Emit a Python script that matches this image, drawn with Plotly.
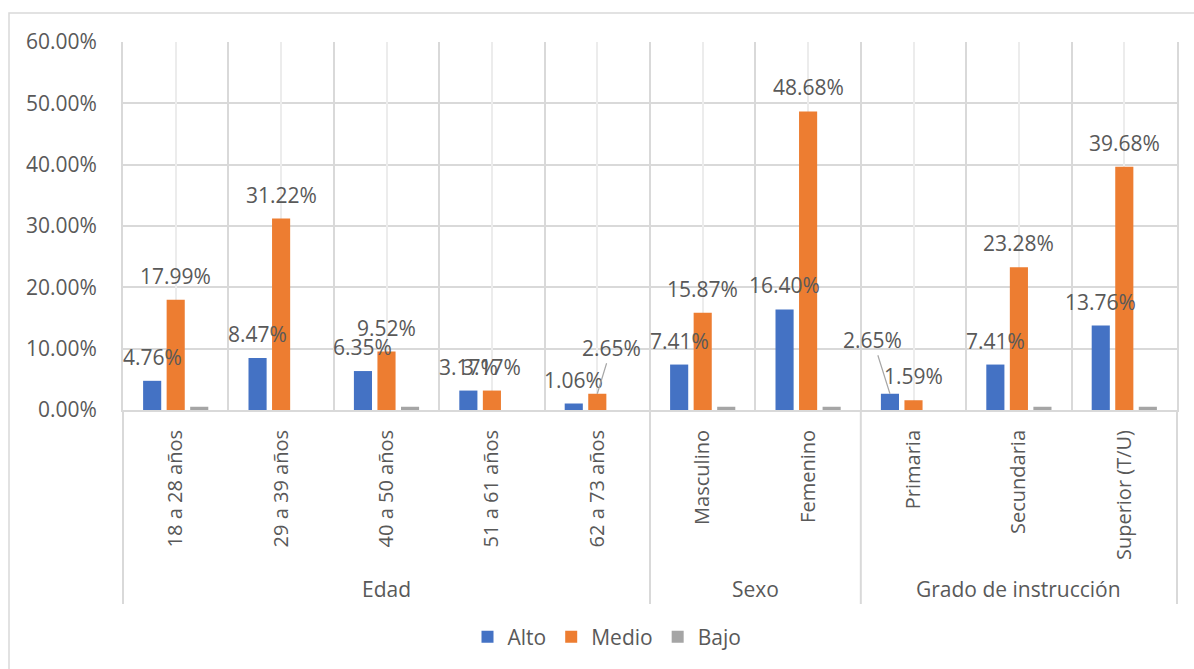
import plotly.graph_objects as go

categories = ["18 a 28 años", "29 a 39 años", "40 a 50 años", "51 a 61 años", "62 a 73 años",
              "Masculino", "Femenino", "Primaria", "Secundaria", "Superior (T/U)"]
group_names = ["Edad", "Sexo", "Grado de instrucción"]
group_sizes = [5, 2, 3]

alto = [4.76, 8.47, 6.35, 3.17, 1.06, 7.41, 16.40, 2.65, 7.41, 13.76]
medio = [17.99, 31.22, 9.52, 3.17, 2.65, 15.87, 48.68, 1.59, 23.28, 39.68]
bajo = [0.53, None, 0.53, None, None, 0.53, 0.53, None, 0.53, 0.53]

series = [("Alto", alto, "#4472C4", True), ("Medio", medio, "#ED7D31", True), ("Bajo", bajo, "#A5A5A5", False)]
# labels moved away from their bar, with a leader line (pixel offsets)
leader = {("Medio", 4): (14, -46), ("Alto", 7): (-17, -54)}

W, H = 1194, 669
ML, MR, MT, MB = 123, 17, 42, 259
BARGAP, GROUPGAP = 0.33, 0.23
FONT = "Open Sans"
TXT = "#595959"
GRID = "#d9d9d9"

plot_w = W - ML - MR
plot_h = H - MT - MB
cat_px = plot_w / len(categories)
slot_px = cat_px * (1 - BARGAP) / 3

fig = go.Figure()
for name, vals, col, _ in series:
    fig.add_trace(go.Bar(name=name, x=categories, y=vals, marker=dict(color=col, line=dict(width=0))))
# empty helper trace so the overlay axis (centre gridlines) is always built
fig.add_trace(go.Scatter(x=[], y=[], xaxis="x2", yaxis="y", showlegend=False, hoverinfo="skip"))

annotations = []
for si, (name, vals, col, labelled) in enumerate(series):
    if not labelled:
        continue
    for i, v in enumerate(vals):
        if v is None:
            continue
        xs = (si - 1) * slot_px
        txt = f"{v:.2f}%"
        if (name, i) in leader:
            ax, ay = leader[(name, i)]
            annotations.append(dict(x=categories[i], y=v, xref="x", yref="y", text=txt, xshift=xs,
                                    showarrow=True, arrowhead=0, arrowwidth=1.2, arrowcolor="#a6a6a6",
                                    ax=ax, ay=ay, standoff=0, startstandoff=0,
                                    font=dict(family=FONT, size=21, color=TXT)))
        else:
            annotations.append(dict(x=categories[i], y=v, xref="x", yref="y", text=txt, xshift=xs,
                                    yshift=8, yanchor="bottom", showarrow=False,
                                    font=dict(family=FONT, size=21, color=TXT)))

# group labels and dividers under the category axis
shapes = []
start = 0
bounds = [0]
for gname, gs in zip(group_names, group_sizes):
    center_idx = start + (gs - 1) / 2
    annotations.append(dict(x=(center_idx + 0.5) / len(categories), y=(0 - (589 - (MT + plot_h))) / plot_h,
                            xref="paper", yref="paper", text=gname, showarrow=False,
                            xanchor="center", yanchor="middle",
                            font=dict(family=FONT, size=21, color=TXT)))
    start += gs
    bounds.append(start)
for b in bounds:
    xp = b / len(categories)
    shapes.append(dict(type="line", xref="paper", yref="paper", x0=xp, x1=xp, y0=0,
                       y1=-(604 - (MT + plot_h)) / plot_h, line=dict(color=GRID, width=2)))

# outer chart border
shapes.append(dict(type="rect", xref="paper", yref="paper",
                   x0=(9 - ML) / plot_w, x1=(W + 10 - ML) / plot_w,
                   y0=-(H + 10 - (MT + plot_h)) / plot_h, y1=((MT + plot_h) - 13) / plot_h,
                   line=dict(color=GRID, width=1.5), fillcolor="rgba(0,0,0,0)"))

fig.update_layout(
    width=W, height=H,
    margin=dict(l=ML, r=MR, t=MT, b=MB, pad=0),
    paper_bgcolor="white", plot_bgcolor="white",
    barmode="group", bargap=BARGAP, bargroupgap=GROUPGAP,
    font=dict(family=FONT, size=21, color=TXT),
    showlegend=True,
    legend=dict(orientation="h", x=(607 - ML) / plot_w, xanchor="center",
                y=-(637 - (MT + plot_h)) / plot_h, yanchor="middle",
                font=dict(family=FONT, size=21, color=TXT), itemwidth=30,
                bgcolor="rgba(0,0,0,0)"),
    xaxis=dict(type="category", categoryorder="array", categoryarray=categories,
               tickson="boundaries", showgrid=True, gridcolor=GRID, gridwidth=2,
               showline=True, linecolor=GRID, linewidth=2, ticks="",
               tickangle=-90, tickfont=dict(family=FONT, size=20, color=TXT),
               ticklabelstandoff=10, range=[-0.5, 9.5], fixedrange=True),
    xaxis2=dict(overlaying="x", type="linear", range=[-0.5, 9.5], tickvals=list(range(10)),
                showgrid=True, gridcolor="#ececec", gridwidth=2, showticklabels=False,
                showline=False, zeroline=False, ticks="", anchor="y"),
    yaxis=dict(range=[0, 60], dtick=10, tickformat=".2f", ticksuffix="%",
               showgrid=True, gridcolor=GRID, gridwidth=2, zeroline=False,
               showline=True, mirror=True, linecolor=GRID, linewidth=2, ticks="",
               ticklabelstandoff=20, tickfont=dict(family=FONT, size=21, color=TXT)),
    annotations=annotations,
    shapes=shapes,
)

fig.write_html("out.html")
